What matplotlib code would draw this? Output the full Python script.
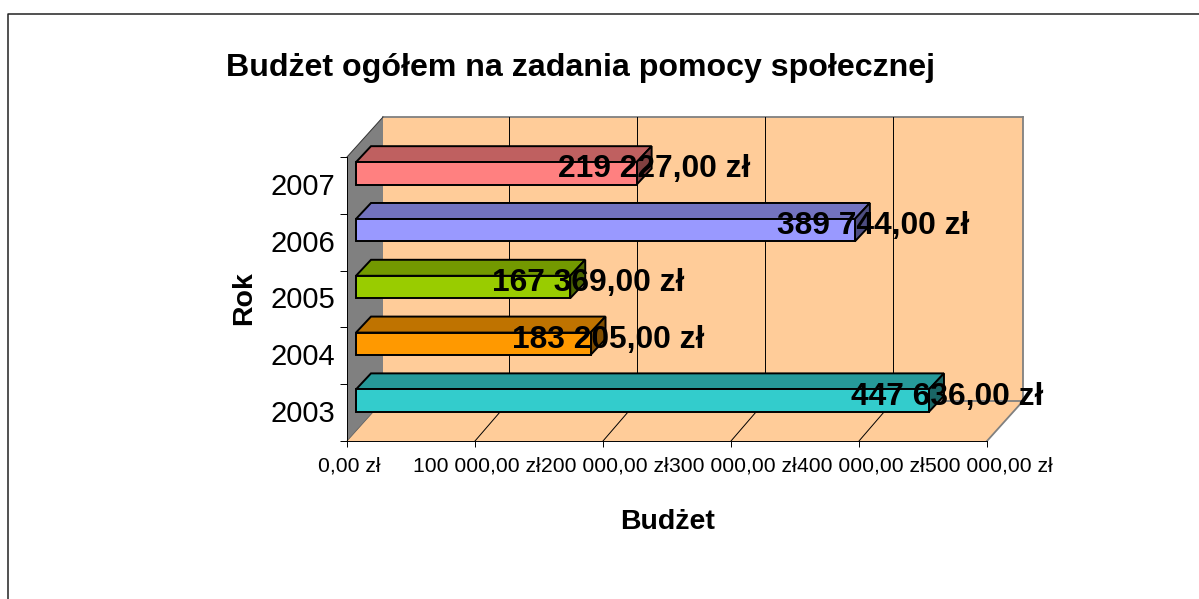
import matplotlib
matplotlib.use("Agg")
import matplotlib.pyplot as plt
from matplotlib.patches import Polygon
from matplotlib.transforms import Affine2D

years = ["2003", "2004", "2005", "2006", "2007"]
budget = [447636, 183205, 167369, 389744, 219227]
bar_labels = ["447 636,00 zł", "183 205,00 zł", "167 369,00 zł", "389 744,00 zł", "219 227,00 zł"]
front_colors = ["#33CCCC", "#FF9900", "#99CC00", "#9999FF", "#FF8080"]
top_colors = ["#269999", "#BF7300", "#739900", "#7373BF", "#BF6060"]
side_colors = ["#1A6666", "#804D00", "#4D6600", "#4D4D80", "#804040"]
x_ticks = [0, 100000, 200000, 300000, 400000, 500000]
x_tick_labels = ["0,00 zł", "100 000,00 zł", "200 000,00 zł", "300 000,00 zł", "400 000,00 zł", "500 000,00 zł"]

W, H = 1199, 599
plt.rcParams["font.family"] = ["Liberation Sans", "DejaVu Sans"]

fig = plt.figure(figsize=(W / 100, H / 100), dpi=100)
pixels = Affine2D()

# chart frame, only top and left edges fall inside the picture
fig.add_artist(plt.Line2D([8, 8, W], [0, H - 14, H - 14], color="#222222", linewidth=1.1, transform=pixels))

# front plane of the fake 3D box
ax = fig.add_axes([347 / W, 1 - 441 / H, 640 / W, 284 / H])
ax.set_xlim(0, 500000)
ax.set_ylim(-0.5, 4.5)
ax.patch.set_visible(False)
for s in ["top", "right"]:
    ax.spines[s].set_visible(False)
for s in ["left", "bottom"]:
    ax.spines[s].set_linewidth(0.7)
    ax.spines[s].set_zorder(1)


def shifted(dx, dy):
    return ax.transData + Affine2D().translate(dx, dy)


def poly(points, color, edge="none", lw=0.0, z=1):
    ax.add_patch(Polygon(points, closed=True, facecolor=color, edgecolor=edge, linewidth=lw,
                         zorder=z, transform=pixels, clip_on=False))


def seg(p0, p1, color, lw, z):
    ax.plot([p0[0], p1[0]], [p0[1], p1[1]], color=color, linewidth=lw, transform=pixels, zorder=z, clip_on=False)


xmin, xmax = ax.get_xlim()
ymin, ymax = ax.get_ylim()
depth = shifted(36, 40)
near = ax.transData.transform
far = depth.transform
grid_far = shifted(34.5, 40).transform

# walls and floor
poly([far((xmin, ymin)), far((xmax, ymin)), far((xmax, ymax)), far((xmin, ymax))], "#FFCC99", z=0)
poly([near((xmin, ymin)), near((xmax, ymin)), far((xmax, ymin)), far((xmin, ymin))], "#FFCC99", z=0)
poly([near((xmin, ymin)), far((xmin, ymin)), far((xmin, ymax)), near((xmin, ymax))], "#808080", z=0)
seg(far((xmin, ymax)), far((xmax, ymax)), "#808080", 1.3, 0.5)
seg(far((xmax, ymax)), far((xmax, ymin)), "#808080", 1.3, 0.5)
seg(far((xmax, ymin)), far((xmin, ymin)), "#808080", 1.3, 0.5)
seg(near((xmax, ymin)), far((xmax, ymin)), "#808080", 1.3, 0.5)
seg(near((xmin, ymax)), far((xmin, ymax)), "#333333", 0.7, 0.6)
seg(near((xmin, ymin)), far((xmin, ymin)), "#555555", 0.5, 0.6)

# gridlines on back wall and floor
for t in x_ticks[1:-1]:
    seg(grid_far((t, ymin)), grid_far((t, ymax)), "black", 0.7, 0.7)
    seg(near((t, ymin)), grid_far((t, ymin)), "black", 0.7, 0.7)

# bars, back to front
bar_h = 0.395
front = shifted(9, 12)
back = shifted(24, 28)
for i in range(len(years) - 1, -1, -1):
    v = budget[i]
    lo, hi = i - bar_h / 2, i + bar_h / 2
    fp = [front.transform(p) for p in [(0, lo), (v, lo), (v, hi), (0, hi)]]
    bp = [back.transform(p) for p in [(0, lo), (v, lo), (v, hi), (0, hi)]]
    poly([fp[3], fp[2], bp[2], bp[3]], top_colors[i], "black", 1.4, 3)
    poly([fp[1], bp[1], bp[2], fp[2]], side_colors[i], "black", 1.4, 3)
    poly(fp, front_colors[i], "black", 1.4, 3.1)

for i in range(len(years)):
    ax.annotate(bar_labels[i], (budget[i], i), xytext=(27 * 0.72, 16 * 0.72), textcoords="offset points",
                ha="center", va="center", fontsize=22.9, fontweight="bold", color="black", zorder=5,
                annotation_clip=False)

# axes ticks
ax.set_xticks(x_ticks)
ax.set_xticklabels(x_tick_labels, fontsize=15.2, color="black")
ax.tick_params(axis="x", length=4.5, width=0.7, pad=6.5)
ax.set_yticks([i - 0.5 for i in range(len(years) + 1)])
ax.set_yticklabels([])
ax.set_yticks(range(len(years)), minor=True)
ax.set_yticklabels(years, minor=True, fontsize=21)
ax.tick_params(axis="y", which="major", length=5, width=0.7)
ax.tick_params(axis="y", which="minor", length=0, pad=8.5)
for lab in ax.get_xticklabels():
    lab.set_transform(lab.get_transform() + Affine2D().translate(2, 0))
for lab in ax.get_yticklabels(minor=True):
    lab.set_transform(lab.get_transform() + Affine2D().translate(0, 1.5))

fig.text(580 / W, 1 - 68 / H, "Budżet ogółem na zadania pomocy społecznej", ha="center", va="center",
         fontsize=23.1, fontweight="bold")
fig.text(668 / W, 1 - 522 / H, "Budżet", ha="center", va="center", fontsize=20.5, fontweight="bold")
fig.text(244 / W, 1 - 298 / H, "Rok", ha="center", va="center", rotation=90, fontsize=20.5, fontweight="bold")

fig.savefig("out.png", dpi=100)
